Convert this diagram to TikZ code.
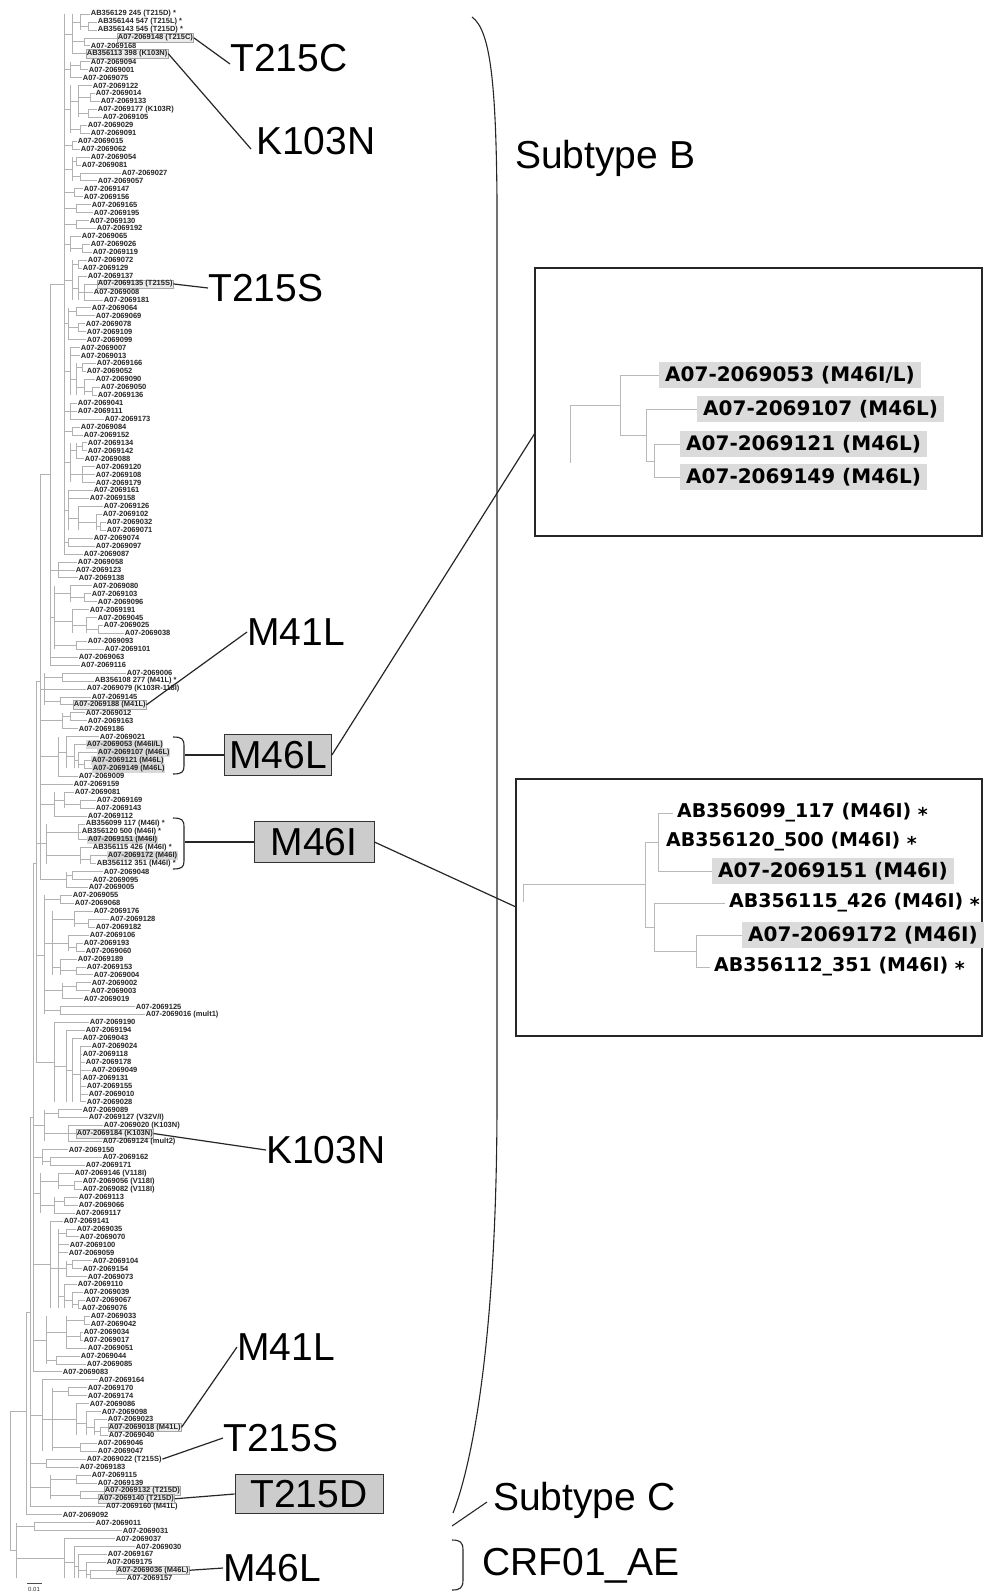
\documentclass[tikz,border=0pt]{standalone}
\usepackage{fontspec}
\setmainfont{Liberation Sans}
\newfontfamily\dejavu{DejaVu Sans}
\begin{document}
\begin{tikzpicture}[x=1pt,y=-1pt,
  declare function={yi(\i)=14+(\i-1)*7.94;},
  br/.style={draw=gray!60, line width=0.6pt},
  leaf/.style={anchor=west, inner sep=0.7pt, font=\bfseries\fontsize{7.5}{8}\selectfont, text=black!85},
  lfn/.style={}, lfb/.style={draw=gray!70, fill=gray!15, line width=0.4pt}, lfs/.style={fill=gray!30},
  big/.style={font=\fontsize{39}{40}\selectfont, inner sep=0pt},
  bigbox/.style={big, draw=black!80, fill=gray!40, line width=0.8pt},
  conn/.style={draw=black!85, line width=1.2pt},
  brk/.style={draw=black!85, line width=1.1pt},
  ins/.style={font=\dejavu\bfseries\fontsize{19}{21}\selectfont, anchor=west, inner xsep=4pt, inner ysep=4pt, minimum height=26pt},
  insh/.style={anchor=west, font=\dejavu\bfseries\fontsize{20}{22}\selectfont, inner xsep=6pt, inner ysep=4pt, minimum height=26pt, fill=gray!28},
  ibr/.style={draw=gray!55, line width=0.8pt},
  frame/.style={draw=black!85, line width=1.2pt}]
\useasboundingbox (0,0) rectangle (984,1592);

% ---------------- leaves ----------------
\foreach \i/\lx/\px/\t/\s in {
1/90/80/{AB356129 245 (T215D) *}/lfn,
2/97/88/{AB356144 547 (T215L) *}/lfn,
3/97/88/{AB356143 545 (T215D) *}/lfn,
4/117/84/{A07-2069148 (T215C)}/lfb,
5/90/84/{A07-2069168}/lfn,
6/86/72/{AB356113 398 (K103N)}/lfb,
7/90/80/{A07-2069094}/lfn,
8/88/80/{A07-2069001}/lfn,
9/82/70/{A07-2069075}/lfn,
10/92/78/{A07-2069122}/lfn,
11/95/90/{A07-2069014}/lfn,
12/100/90/{A07-2069133}/lfn,
13/97/88/{A07-2069177 (K103R)}/lfn,
14/102/88/{A07-2069105}/lfn,
15/87/80/{A07-2069029}/lfn,
16/90/80/{A07-2069091}/lfn,
17/77/72/{A07-2069015}/lfn,
18/80/72/{A07-2069062}/lfn,
19/90/76/{A07-2069054}/lfn,
20/81/76/{A07-2069081}/lfn,
21/121/80/{A07-2069027}/lfn,
22/97/80/{A07-2069057}/lfn,
23/83/74/{A07-2069147}/lfn,
24/83/74/{A07-2069156}/lfn,
25/91/76/{A07-2069165}/lfn,
26/93/76/{A07-2069195}/lfn,
27/89/76/{A07-2069130}/lfn,
28/96/76/{A07-2069192}/lfn,
29/81/70/{A07-2069065}/lfn,
30/90/82/{A07-2069026}/lfn,
31/92/82/{A07-2069119}/lfn,
32/87/78/{A07-2069072}/lfn,
33/82/78/{A07-2069129}/lfn,
34/87/78/{A07-2069137}/lfn,
35/97/84/{A07-2069135 (T215S)}/lfb,
36/93/84/{A07-2069008}/lfn,
37/103/84/{A07-2069181}/lfn,
38/91/76/{A07-2069064}/lfn,
39/95/76/{A07-2069069}/lfn,
40/85/78/{A07-2069078}/lfn,
41/86/78/{A07-2069109}/lfn,
42/86/68/{A07-2069099}/lfn,
43/80/70/{A07-2069007}/lfn,
44/80/70/{A07-2069013}/lfn,
45/96/82/{A07-2069166}/lfn,
46/86/82/{A07-2069052}/lfn,
47/95/84/{A07-2069090}/lfn,
48/100/92/{A07-2069050}/lfn,
49/97/92/{A07-2069136}/lfn,
50/77/70/{A07-2069041}/lfn,
51/77/70/{A07-2069111}/lfn,
52/104/70/{A07-2069173}/lfn,
53/80/72/{A07-2069084}/lfn,
54/83/72/{A07-2069152}/lfn,
55/87/82/{A07-2069134}/lfn,
56/87/82/{A07-2069142}/lfn,
57/84/76/{A07-2069088}/lfn,
58/95/82/{A07-2069120}/lfn,
59/95/82/{A07-2069108}/lfn,
60/95/82/{A07-2069179}/lfn,
61/93/68/{A07-2069161}/lfn,
62/89/68/{A07-2069158}/lfn,
63/103/78/{A07-2069126}/lfn,
64/102/96/{A07-2069102}/lfn,
65/106/100/{A07-2069032}/lfn,
66/106/100/{A07-2069071}/lfn,
67/93/68/{A07-2069074}/lfn,
68/95/68/{A07-2069097}/lfn,
69/83/64/{A07-2069087}/lfn,
70/77/58/{A07-2069058}/lfn,
71/75/58/{A07-2069123}/lfn,
72/78/58/{A07-2069138}/lfn,
73/92/70/{A07-2069080}/lfn,
74/91/84/{A07-2069103}/lfn,
75/97/84/{A07-2069096}/lfn,
76/89/72/{A07-2069191}/lfn,
77/97/86/{A07-2069045}/lfn,
78/103/98/{A07-2069025}/lfn,
79/124/98/{A07-2069038}/lfn,
80/87/76/{A07-2069093}/lfn,
81/104/76/{A07-2069101}/lfn,
82/78/50/{A07-2069063}/lfn,
83/80/50/{A07-2069116}/lfn,
84/126/62/{A07-2069006}/lfn,
85/94/62/{AB356108 277 (M41L) *}/lfn,
86/86/44/{A07-2069079 (K103R-118I)}/lfn,
87/91/60/{A07-2069145}/lfn,
88/73/60/{A07-2069188 (M41L)}/lfb,
89/85/70/{A07-2069012}/lfn,
90/87/70/{A07-2069163}/lfn,
91/78/62/{A07-2069186}/lfn,
92/99/66/{A07-2069021}/lfn,
93/86/74/{A07-2069053 (M46I/L)}/lfs,
94/97/78/{A07-2069107 (M46L)}/lfs,
95/91/84/{A07-2069121 (M46L)}/lfs,
96/92/84/{A07-2069149 (M46L)}/lfs,
97/78/58/{A07-2069009}/lfn,
98/73/40/{A07-2069159}/lfn,
99/74/64/{A07-2069081}/lfn,
100/96/80/{A07-2069169}/lfn,
101/95/80/{A07-2069143}/lfn,
102/87/54/{A07-2069112}/lfn,
103/85/78/{AB356099 117 (M46I) *}/lfn,
104/81/78/{AB356120 500 (M46I) *}/lfn,
105/87/78/{A07-2069151 (M46I)}/lfs,
106/92/80/{AB356115 426 (M46I) *}/lfn,
107/107/90/{A07-2069172 (M46I)}/lfs,
108/96/90/{AB356112 351 (M46I) *}/lfn,
109/103/72/{A07-2069048}/lfn,
110/92/72/{A07-2069095}/lfn,
111/88/66/{A07-2069005}/lfn,
112/72/60/{A07-2069055}/lfn,
113/74/60/{A07-2069068}/lfn,
114/93/74/{A07-2069176}/lfn,
115/109/88/{A07-2069128}/lfn,
116/95/88/{A07-2069182}/lfn,
117/89/68/{A07-2069106}/lfn,
118/83/76/{A07-2069193}/lfn,
119/85/76/{A07-2069060}/lfn,
120/77/60/{A07-2069189}/lfn,
121/86/76/{A07-2069153}/lfn,
122/93/76/{A07-2069004}/lfn,
123/91/76/{A07-2069002}/lfn,
124/90/76/{A07-2069003}/lfn,
125/83/62/{A07-2069019}/lfn,
126/135/60/{A07-2069125}/lfn,
127/145/60/{A07-2069016 (mult1)}/lfn,
128/89/54/{A07-2069190}/lfn,
129/85/66/{A07-2069194}/lfn,
130/82/72/{A07-2069043}/lfn,
131/91/80/{A07-2069024}/lfn,
132/82/80/{A07-2069118}/lfn,
133/85/80/{A07-2069178}/lfn,
134/91/80/{A07-2069049}/lfn,
135/82/80/{A07-2069131}/lfn,
136/86/80/{A07-2069155}/lfn,
137/88/80/{A07-2069010}/lfn,
138/86/80/{A07-2069028}/lfn,
139/82/58/{A07-2069089}/lfn,
140/88/58/{A07-2069127 (V32V/I)}/lfn,
141/103/68/{A07-2069020 (K103N)}/lfn,
142/76/68/{A07-2069184 (K103N)}/lfb,
143/102/68/{A07-2069124 (mult2)}/lfn,
144/68/42/{A07-2069150}/lfn,
145/102/50/{A07-2069162}/lfn,
146/85/50/{A07-2069171}/lfn,
147/74/58/{A07-2069146 (V118I)}/lfn,
148/82/74/{A07-2069056 (V118I)}/lfn,
149/82/74/{A07-2069082 (V118I)}/lfn,
150/78/64/{A07-2069113}/lfn,
151/78/64/{A07-2069066}/lfn,
152/75/54/{A07-2069117}/lfn,
153/63/50/{A07-2069141}/lfn,
154/76/66/{A07-2069035}/lfn,
155/79/66/{A07-2069070}/lfn,
156/69/58/{A07-2069100}/lfn,
157/68/58/{A07-2069059}/lfn,
158/92/72/{A07-2069104}/lfn,
159/82/72/{A07-2069154}/lfn,
160/87/66/{A07-2069073}/lfn,
161/77/64/{A07-2069110}/lfn,
162/83/72/{A07-2069039}/lfn,
163/85/78/{A07-2069067}/lfn,
164/81/78/{A07-2069076}/lfn,
165/90/84/{A07-2069033}/lfn,
166/90/84/{A07-2069042}/lfn,
167/83/80/{A07-2069034}/lfn,
168/83/80/{A07-2069017}/lfn,
169/87/66/{A07-2069051}/lfn,
170/80/56/{A07-2069044}/lfn,
171/86/56/{A07-2069085}/lfn,
172/62/33/{A07-2069083}/lfn,
173/98/42/{A07-2069164}/lfn,
174/87/68/{A07-2069170}/lfn,
175/87/68/{A07-2069174}/lfn,
176/89/76/{A07-2069086}/lfn,
177/101/86/{A07-2069098}/lfn,
178/107/94/{A07-2069023}/lfn,
179/108/100/{A07-2069018 (M41L)}/lfb,
180/108/100/{A07-2069040}/lfn,
181/97/80/{A07-2069046}/lfn,
182/97/80/{A07-2069047}/lfn,
183/86/46/{A07-2069022 (T215S)}/lfn,
184/79/46/{A07-2069183}/lfn,
185/91/76/{A07-2069115}/lfn,
186/97/76/{A07-2069139}/lfn,
187/104/80/{A07-2069132 (T215D)}/lfb,
188/98/80/{A07-2069140 (T215D)}/lfb,
189/105/30/{A07-2069160 (M41L)}/lfn,
190/62/26/{A07-2069092}/lfn,
191/95/34/{A07-2069011}/lfn,
192/122/34/{A07-2069031}/lfn,
193/115/64/{A07-2069037}/lfn,
194/135/74/{A07-2069030}/lfn,
195/107/78/{A07-2069167}/lfn,
196/106/86/{A07-2069175}/lfn,
197/116/90/{A07-2069036 (M46L)}/lfb,
198/126/90/{A07-2069157}/lfn}
{
  \node[leaf,\s] (l\i) at (\lx,{yi(\i)}) {\t};
  \draw[br] (\px,{yi(\i)}) -- (l\i.west);
}

% ---------------- clades ----------------
\foreach \a/\b/\xv/\xb in {
1/6/72/64, 1/3/80/72, 2/3/88/80, 4/5/84/72,
7/9/70/64, 7/8/80/70,
10/16/70/64, 10/14/78/70, 11/12/90/78, 13/14/88/78, 15/16/80/70,
17/18/72/64, 19/22/72/64, 19/20/76/72, 21/22/80/72, 23/24/74/64,
25/26/76/64, 27/28/76/64, 29/31/70/64, 30/31/82/70,
32/37/72/64, 32/33/78/72, 34/37/78/72, 35/37/84/78,
38/42/68/64, 38/39/76/68, 40/41/78/68,
43/49/70/64, 45/49/76/70, 45/46/82/76, 47/49/84/76, 48/49/92/84,
50/52/70/64, 53/54/72/64, 55/60/70/64, 55/57/76/70, 55/56/82/76, 58/60/82/70,
61/66/68/64, 63/66/78/68, 64/66/96/78, 65/66/100/96, 67/68/68/64,
70/72/58/50, 73/81/54/50, 73/75/70/54, 74/75/84/70, 76/79/72/54, 77/79/86/72, 78/79/98/86, 80/81/76/54,
84/88/44/40, 84/85/62/44, 87/88/60/44, 89/91/62/40, 89/90/70/62,
92/97/58/40, 92/96/66/58, 93/96/74/66, 94/96/78/74, 95/96/84/78,
99/102/54/40, 99/101/64/54, 100/101/80/64,
103/108/46/36, 103/105/78/46, 106/108/80/46, 107/108/90/80,
109/111/66/40, 109/110/72/66,
112/127/44/36, 112/113/60/44, 114/122/52/44, 114/116/74/52, 115/116/88/74, 117/119/68/52, 118/119/76/68,
120/122/60/52, 121/122/76/60, 123/125/62/44, 123/124/76/62, 126/127/60/44,
128/138/54/36, 129/138/66/54, 130/138/72/66, 131/138/80/72,
139/143/44/33, 139/140/58/44, 141/143/68/44, 144/146/42/33, 145/146/50/42,
147/152/40/33, 147/149/58/40, 148/149/74/58, 150/152/54/40, 150/151/64/54,
153/164/50/33, 154/164/58/50, 154/155/66/58, 158/160/66/58, 158/159/72/66, 161/164/64/58, 162/164/72/64, 163/164/78/72,
165/171/46/33, 165/169/66/46, 165/166/84/66, 167/168/80/66, 170/171/56/46,
173/182/42/30, 174/182/52/42, 174/175/68/52, 176/180/76/52, 177/180/86/76, 178/180/94/86, 179/180/100/94, 181/182/80/52,
183/184/46/30, 185/188/50/30, 185/186/76/50, 187/188/80/50,
191/198/16/10, 191/192/34/16, 193/198/64/16, 194/198/74/64, 195/198/78/74, 196/198/86/78, 197/198/90/86}
{
  \draw[br] (\xv,{yi(\a)}) -- (\xv,{yi(\b)});
  \draw[br] (\xb,{yi((\a+\b)/2)}) -- (\xv,{yi((\a+\b)/2)});
}

% ---------------- backbone ----------------
\foreach \x/\a/\b in {64/1/69, 50/35/83, 40/59/110, 36/85/133, 33/108/172, 30/140/189, 26/164.5/190, 10/177/194.5}
  \draw[br] (\x,{yi(\a)}) -- (\x,{yi(\b)});
\foreach \u/\v/\a in {50/64/35, 40/50/59, 36/40/85, 33/36/108, 30/33/140, 26/30/164.5, 10/26/177}
  \draw[br] (\u,{yi(\a)}) -- (\v,{yi(\a)});

% scale bar
\coordinate (sb1) at (27,1583);
\coordinate (sb2) at (42,1583);
\draw[draw=black!70, line width=0.6pt] (sb1) -- (sb2);
\node[font=\fontsize{6}{6}\selectfont, text=black!80, inner sep=0pt] (sbl) at (34,1589) {0.01};

% ---------------- big labels ----------------
\node[big, anchor=west] (t215c) at (230,58) {T215C};
\node[big, anchor=west] (k103n) at (256,141) {K103N};
\node[big, anchor=west] (t215s) at (208,288) {T215S};
\node[big, anchor=west] (m41l) at (247,632) {M41L};
\node[bigbox, minimum width=107pt, minimum height=41pt] (m46l) at (278,755) {M46L};
\node[bigbox, minimum width=120pt, minimum height=41pt] (m46i) at (314,842) {M46I};
\node[big, anchor=west] (k103nb) at (266,1150) {K103N};
\node[big, anchor=west] (m41lb) at (237,1347) {M41L};
\node[big, anchor=west] (t215sb) at (223,1438) {T215S};
\node[bigbox, minimum width=148pt, minimum height=39pt] (t215d) at (309,1494) {T215D};
\node[big, anchor=west] (m46lb) at (223,1568) {M46L};
\node[big, anchor=base west] (subb) at (515,168) {Subtype B};
\node[big, anchor=base west] (subc) at (493,1510) {Subtype C};
\node[big, anchor=base west] (crf) at (482,1575) {CRF01\_AE};

% connectors
\draw[conn] (l4.east) -- ([yshift=-6pt]t215c.west);
\draw[conn] (l6.east) -- ([xshift=-5pt,yshift=-8pt]k103n.west);
\draw[conn] (l35.east) -- (t215s.west);
\draw[conn] (l88.east) -- (m41l.west);
\draw[conn] (l142.east) -- (k103nb.west);
\draw[conn] (l179.east) -- (m41lb.west);
\draw[conn] (l183.east) -- (t215sb.west);
\draw[conn] (l188.east) -- (t215d.west);
\draw[conn] (l197.east) -- (m46lb.west);

% small brackets
\coordinate (bk1) at (185,755);
\draw[brk] (173,737) .. controls (182,737) and (184,739) .. (184,746) -- (184,766) .. controls (184,772) and (182,774) .. (173,774);
\draw[conn] (bk1) -- (m46l.west);
\coordinate (bk2) at (185,842);
\draw[brk] (173,818) .. controls (182,818) and (184,820) .. (184,827) -- (184,861) .. controls (184,867) and (182,869) .. (173,869);
\draw[conn] (bk2) -- (m46i.west);

% big bracket for subtype B
\draw[brk] (472,17) .. controls (490,30) and (496,80) .. (497,200) -- (497,1100) .. controls (497,1350) and (470,1470) .. (453,1513);
\coordinate (sc1) at (452,1526);
\coordinate (sc2) at (487,1502);
\draw[brk] (sc1) -- (sc2);
\draw[brk] (452,1540) .. controls (460,1540) and (463,1542) .. (463,1550) -- (463,1580) .. controls (463,1588) and (460,1590) .. (452,1590);

% ---------------- inset 1 ----------------
\draw[frame] (535,268) rectangle (982,536);
\coordinate (ins1) at (535,433);
\draw[conn] (m46l.east) -- (ins1);
\node[insh] (a1) at (659,375) {A07-2069053 (M46I/L)};
\node[insh] (a2) at (697,409) {A07-2069107 (M46L)};
\node[insh] (a3) at (680,444) {A07-2069121 (M46L)};
\node[insh] (a4) at (680,477) {A07-2069149 (M46L)};
\draw[ibr] (570,463) -- (570,405) -- (620,405);
\draw[ibr] (620,375) -- (620,435);
\draw[ibr] (620,375) -- (a1.west);
\draw[ibr] (620,435) -- (646,435);
\draw[ibr] (646,409) -- (646,461);
\draw[ibr] (646,409) -- (a2.west);
\draw[ibr] (646,461) -- (654,461);
\draw[ibr] (654,444) -- (654,477);
\draw[ibr] (654,444) -- (a3.west);
\draw[ibr] (654,477) -- (a4.west);

% ---------------- inset 2 ----------------
\draw[frame] (516,779) rectangle (982,1036);
\coordinate (ins2) at (516,907);
\draw[conn] (m46i.east) -- (ins2);
\node[ins] (b1) at (673,813) {AB356099\_117 (M46I) \raisebox{-0.3ex}{*}};
\node[ins] (b2) at (662,842) {AB356120\_500 (M46I) \raisebox{-0.3ex}{*}};
\node[insh] (b3) at (712,871) {A07-2069151 (M46I)};
\node[ins] (b4) at (725,903) {AB356115\_426 (M46I) \raisebox{-0.3ex}{*}};
\node[insh] (b5) at (742,935) {A07-2069172 (M46I)};
\node[ins] (b6) at (710,967) {AB356112\_351 (M46I) \raisebox{-0.3ex}{*}};
\draw[ibr] (523,902) -- (523,884) -- (645,884);
\draw[ibr] (645,842) -- (645,927);
\draw[ibr] (645,842) -- (658,842);
\draw[ibr] (658,813) -- (658,871);
\draw[ibr] (658,813) -- (b1.west);
\draw[ibr] (658,871) -- (b3.west);
\draw[ibr] (645,927) -- (654,927);
\draw[ibr] (654,903) -- (654,951);
\draw[ibr] (654,903) -- (b4.west);
\draw[ibr] (654,951) -- (696,951);
\draw[ibr] (696,935) -- (696,967);
\draw[ibr] (696,935) -- (b5.west);
\draw[ibr] (696,967) -- (b6.west);
\end{tikzpicture}
\end{document}
